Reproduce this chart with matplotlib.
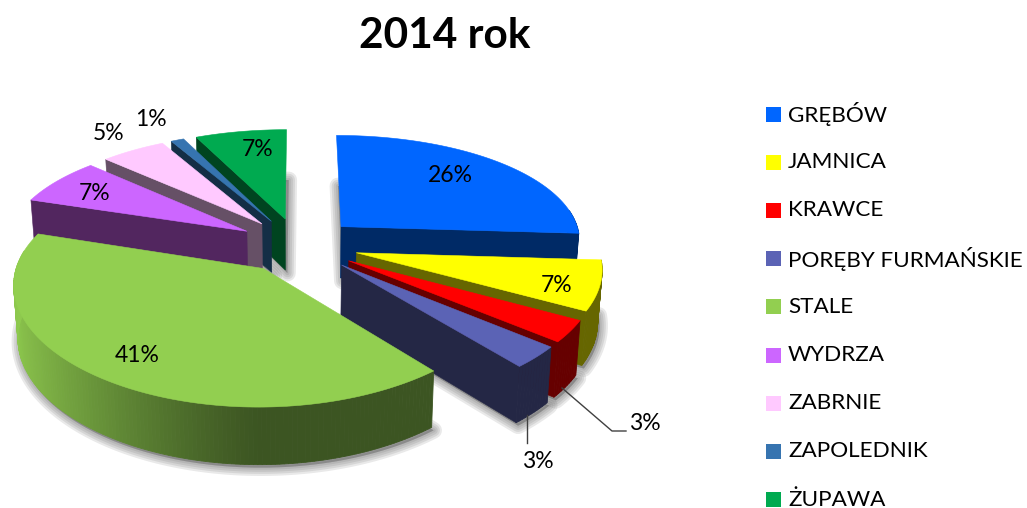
# -*- coding: utf-8 -*-
# exploded 3D pie, drawn by hand since matplotlib has no perspective pie
import numpy as np
import matplotlib
matplotlib.use('Agg')
import matplotlib.pyplot as plt
from matplotlib.patches import Polygon, Rectangle

title = '2014 rok'
names = ['GRĘBÓW', 'JAMNICA', 'KRAWCE', 'PORĘBY FURMAŃSKIE', 'STALE',
         'WYDRZA', 'ZABRNIE', 'ZAPOLEDNIK', 'ŻUPAWA']
shares = [26, 7, 3, 3, 41, 7, 5, 1, 7]
colors = ['#0066FF', '#FFFF00', '#FF0000', '#5B63B5', '#92CF50',
          '#CC66FF', '#FFC9FF', '#3674B0', '#00AA50']
side_colors = ['#002A66', '#666600', '#660000', '#242745', '#3C5522',
               '#52265F', '#665066', '#142E46', '#004420']
# where the percent labels sit, in pixels
label_xy = [(450, 175), (557, 285), (645, 423), (538, 461), (137, 355),
            (95, 193), (109, 133), (151, 119), (258, 150)]

plt.rcParams['font.family'] = ['Lato', 'DejaVu Sans']

# projection settings
CX, CY = 298, 245
R, TILT, PERSP, PERSP_X = 241, 110 / 241, 0.15, 0.12
EXPLODE = 0.25
DEPTH = 52


def project(x, y, low=False):
    sx = CX + R * x / (1 + PERSP_X * y)
    sy = CY - R * TILT * y / (1 + PERSP * y)
    if low:
        sx = sx - 0.015 * (sx - CX)
        sy = sy + DEPTH / (1 + 0.08 * y)
    return sx, sy


def rgb(c):
    return np.array(matplotlib.colors.to_rgb(c))


fig = plt.figure(figsize=(10.27, 5.08), dpi=100)
ax = fig.add_axes([0, 0, 1, 1])
ax.set_xlim(0, 1027)
ax.set_ylim(508, 0)
ax.axis('off')

edges = np.cumsum([0] + shares) * 3.6
order = [8, 7, 6, 5, 0, 1, 2, 3, 4]  # back to front


def slice_parts(i):
    a0, a1 = np.radians(edges[i]), np.radians(edges[i + 1])
    mid = (a0 + a1) / 2
    ox, oy = EXPLODE * np.sin(mid), EXPLODE * np.cos(mid)
    ang = np.linspace(a0, a1, max(3, int(shares[i] * 4)))
    xs = ox + np.sin(ang)
    ys = oy + np.cos(ang)
    return ang, ox, oy, xs, ys


# soft shadows first, under everything
for i in order:
    ang, ox, oy, xs, ys = slice_parts(i)
    pts = [project(ox, oy, True)] + [project(x, y, True) for x, y in zip(xs, ys)]
    pts = np.array(pts) + [2, 3]
    for lw in [12, 9, 6, 3]:
        ax.add_patch(Polygon(pts, closed=True, fc='#555555', ec='#555555',
                             lw=lw, alpha=0.13, joinstyle='round', zorder=1))

z = 2
for i in order:
    ang, ox, oy, xs, ys = slice_parts(i)
    top_c = rgb(colors[i])
    dark = rgb(side_colors[i])

    # rim, split up so it can carry the gradient
    for k in range(len(ang) - 1):
        if np.cos(ang[k]) > 0.15 and np.cos(ang[k + 1]) > 0.15:
            continue
        left = max(0.0, -np.sin((ang[k] + ang[k + 1]) / 2))
        col = dark + (top_c * 0.97 - dark) * left ** 1.2
        quad = [project(xs[k], ys[k]), project(xs[k + 1], ys[k + 1]),
                project(xs[k + 1], ys[k + 1], True), project(xs[k], ys[k], True)]
        ax.add_patch(Polygon(quad, closed=True, fc=col, ec=col, lw=0.6, zorder=z))

    # radial walls, only the ones turned to the viewer
    if np.sin(ang[0]) < -1e-6:
        wall = [project(ox, oy), project(xs[0], ys[0]),
                project(xs[0], ys[0], True), project(ox, oy, True)]
        ax.add_patch(Polygon(wall, closed=True, fc=dark, ec=dark, lw=0.4, zorder=z))
    if np.sin(ang[-1]) > 1e-6:
        wall = [project(ox, oy), project(xs[-1], ys[-1]),
                project(xs[-1], ys[-1], True), project(ox, oy, True)]
        ax.add_patch(Polygon(wall, closed=True, fc=dark, ec=dark, lw=0.4, zorder=z))

    top = [project(ox, oy)] + [project(x, y) for x, y in zip(xs, ys)]
    ax.add_patch(Polygon(top, closed=True, fc=colors[i], ec=colors[i], lw=0.4, zorder=z))
    z += 1

# leader lines for the two small slices
ax.plot([527, 527], [415, 443], color='#404040', lw=1, zorder=30)
ax.plot([562, 612, 626], [388, 431, 431], color='#404040', lw=1, zorder=30)

for share, (lx, ly) in zip(shares, label_xy):
    ax.text(lx, ly, f'{share}%', ha='center', va='center', fontsize=16.5,
            color='black', zorder=40)

ax.text(445, 36, title, ha='center', va='center', fontsize=30.5,
        fontweight='bold', color='black')

# legend
for k, (name, col) in enumerate(zip(names, colors)):
    y = 114 + k * 48.2
    ax.add_patch(Rectangle((766, y - 7.5), 15, 15, fc=col, ec='none'))
    ax.text(788, y, name, ha='left', va='center', fontsize=16.2, color='black')

fig.savefig('out.png', dpi=100)
